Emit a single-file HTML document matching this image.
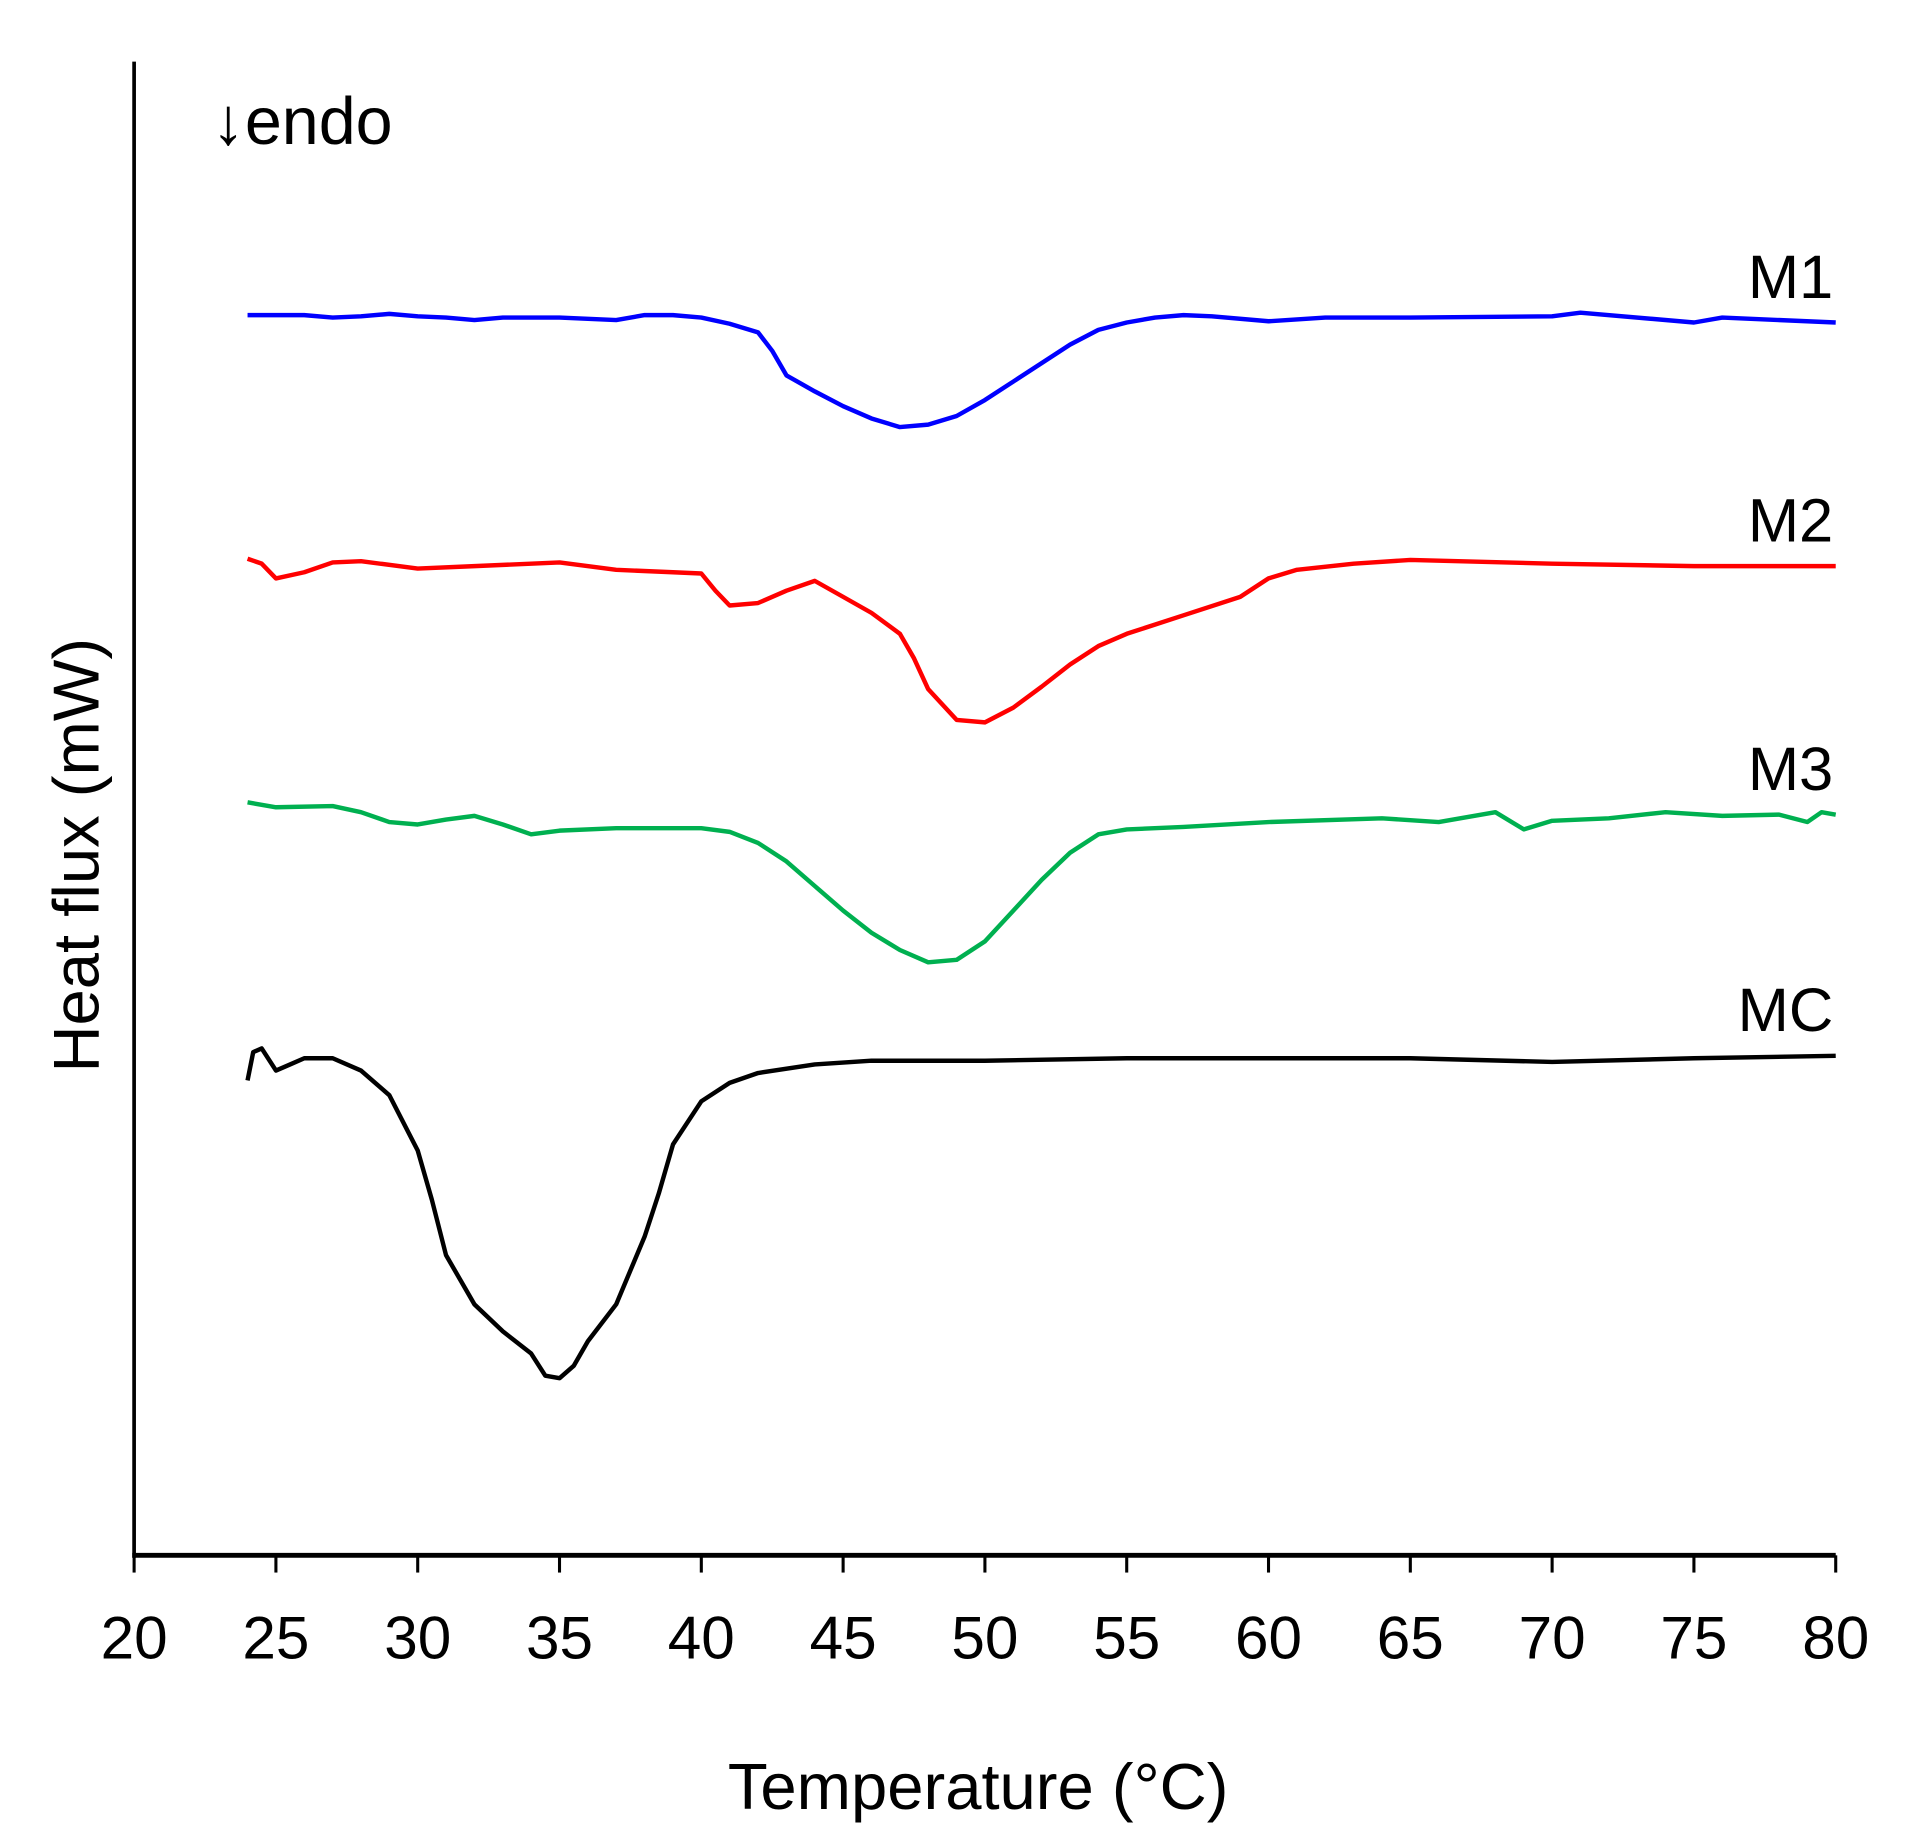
<!DOCTYPE html>
<html><head><meta charset="utf-8"><style>
html,body{margin:0;padding:0;background:#fff;}
svg{display:block;font-family:"Liberation Sans",Arial,sans-serif;}
</style></head><body>
<svg id="chart" width="1928" height="1836" viewBox="0 0 1567 1492" xmlns="http://www.w3.org/2000/svg">
<g id="axes"></g>
<g id="series"></g>
<text x="172" y="117" font-size="54">↓endo</text>
<text x="795" y="1470" font-size="53" text-anchor="middle">Temperature (°C)</text>
<text transform="translate(80,695) rotate(-90)" font-size="53" text-anchor="middle">Heat flux (mW)</text>
</svg>
<script>
const xTicks = [20,25,30,35,40,45,50,55,60,65,70,75,80];
const m1T = [24,25,26,27,28,29,30,31,32,33,34,35,36,37,38,39,40,41,42,42.5,43,44,45,46,47,48,49,50,51,52,53,54,55,56,57,58,60,62,65,70,71,75,76,80];
const m1V = [100.8,100.8,100.8,100.6,100.7,100.9,100.7,100.6,100.4,100.6,100.6,100.6,100.5,100.4,100.8,100.8,100.6,100.1,99.4,97.9,95.9,94.6,93.4,92.4,91.7,91.9,92.6,93.9,95.4,96.9,98.4,99.6,100.2,100.6,100.8,100.7,100.3,100.6,100.6,100.7,101.0,100.2,100.6,100.2];
const m2T = [24,24.5,25,26,27,28,30,32,35,37,39,40,40.5,41,42,43,44,45,46,47,47.5,48,49,50,51,52,53,54,55,57,59,60,61,63,65,70,75,80];
const m2V = [81.0,80.6,79.4,79.9,80.7,80.8,80.2,80.4,80.7,80.1,79.9,79.8,78.4,77.2,77.4,78.4,79.2,77.9,76.6,74.9,72.9,70.4,67.9,67.7,68.9,70.6,72.4,73.9,74.9,76.4,77.9,79.4,80.1,80.6,80.9,80.6,80.4,80.4];
const m3T = [24,25,27,28,29,30,31,32,33,34,35,37,40,41,42,43,44,45,46,47,48,49,50,51,52,53,54,55,57,60,64,66,68,69,70,72,74,76,78,79,79.5,80];
const m3V = [61.2,60.8,60.9,60.4,59.6,59.4,59.8,60.1,59.4,58.6,58.9,59.1,59.1,58.8,57.9,56.4,54.4,52.4,50.6,49.2,48.2,48.4,49.9,52.4,54.9,57.1,58.6,59.0,59.2,59.6,59.9,59.6,60.4,59.0,59.7,59.9,60.4,60.1,60.2,59.6,60.4,60.2];
const mcT = [24,24.2,24.5,25,25.5,26,27,28,29,30,30.5,31,32,33,34,34.5,35,35.5,36,37,38,38.5,39,40,41,42,44,46,50,55,60,65,70,75,80];
const mcV = [38.6,40.9,41.2,39.4,39.9,40.4,40.4,39.4,37.4,32.9,28.9,24.4,20.4,18.2,16.4,14.6,14.4,15.4,17.4,20.4,25.9,29.4,33.4,36.9,38.4,39.2,39.9,40.2,40.2,40.4,40.4,40.4,40.1,40.4,40.6];
const seriesNames = ["M1","M2","M3","MC"];
const seriesColors = ["#0000ff","#ff0000","#00b050","#000000"];

const X0=109, X1=1492, Y0=1264, Y1=50;
const xMin=20, xMax=80, yMin=0, yMax=121.4;
function xs(t){return X0+(t-xMin)/(xMax-xMin)*(X1-X0);}
function ys(v){return Y0-(v-yMin)/(yMax-yMin)*(Y0-Y1);}
const NS="http://www.w3.org/2000/svg";
const axes=document.getElementById('axes');
function mk(tag,attrs,parent){const e=document.createElementNS(NS,tag);for(const k in attrs)e.setAttribute(k,attrs[k]);parent.appendChild(e);return e;}

let e=mk('line',{x1:X0,y1:Y1,x2:X0,y2:Y0+2,stroke:'#000','stroke-width':3},axes);


e=mk('line',{x1:X0-1.5,y1:Y0,x2:X1,y2:Y0,stroke:'#000','stroke-width':4},axes);


xTicks.forEach(t=>{
  const tk=mk('line',{x1:xs(t),y1:Y0,x2:xs(t),y2:Y0+14,stroke:'#000','stroke-width':2.5},axes);
  
  
  const lb=mk('text',{x:xs(t),y:1348,'font-size':49,'text-anchor':'middle'},axes);
  lb.textContent=t;
  
  
});
const sg=document.getElementById('series');
const all=[[m1T,m1V],[m2T,m2V],[m3T,m3V],[mcT,mcV]];
all.forEach((s,i)=>{
  const d=s[0].map((t,j)=>(j?'L':'M')+xs(t).toFixed(1)+' '+ys(s[1][j]).toFixed(1)).join(' ');
  const p=mk('path',{d:d,fill:'none',stroke:seriesColors[i],'stroke-width':3.6,'stroke-linejoin':'round'},sg);
  
  
  const lt=mk('text',{x:1490,y:ys(s[1][s[1].length-1])-20,'font-size':50,'text-anchor':'end'},sg);
  lt.textContent=seriesNames[i];
  
  
});
</script>
</body></html>
